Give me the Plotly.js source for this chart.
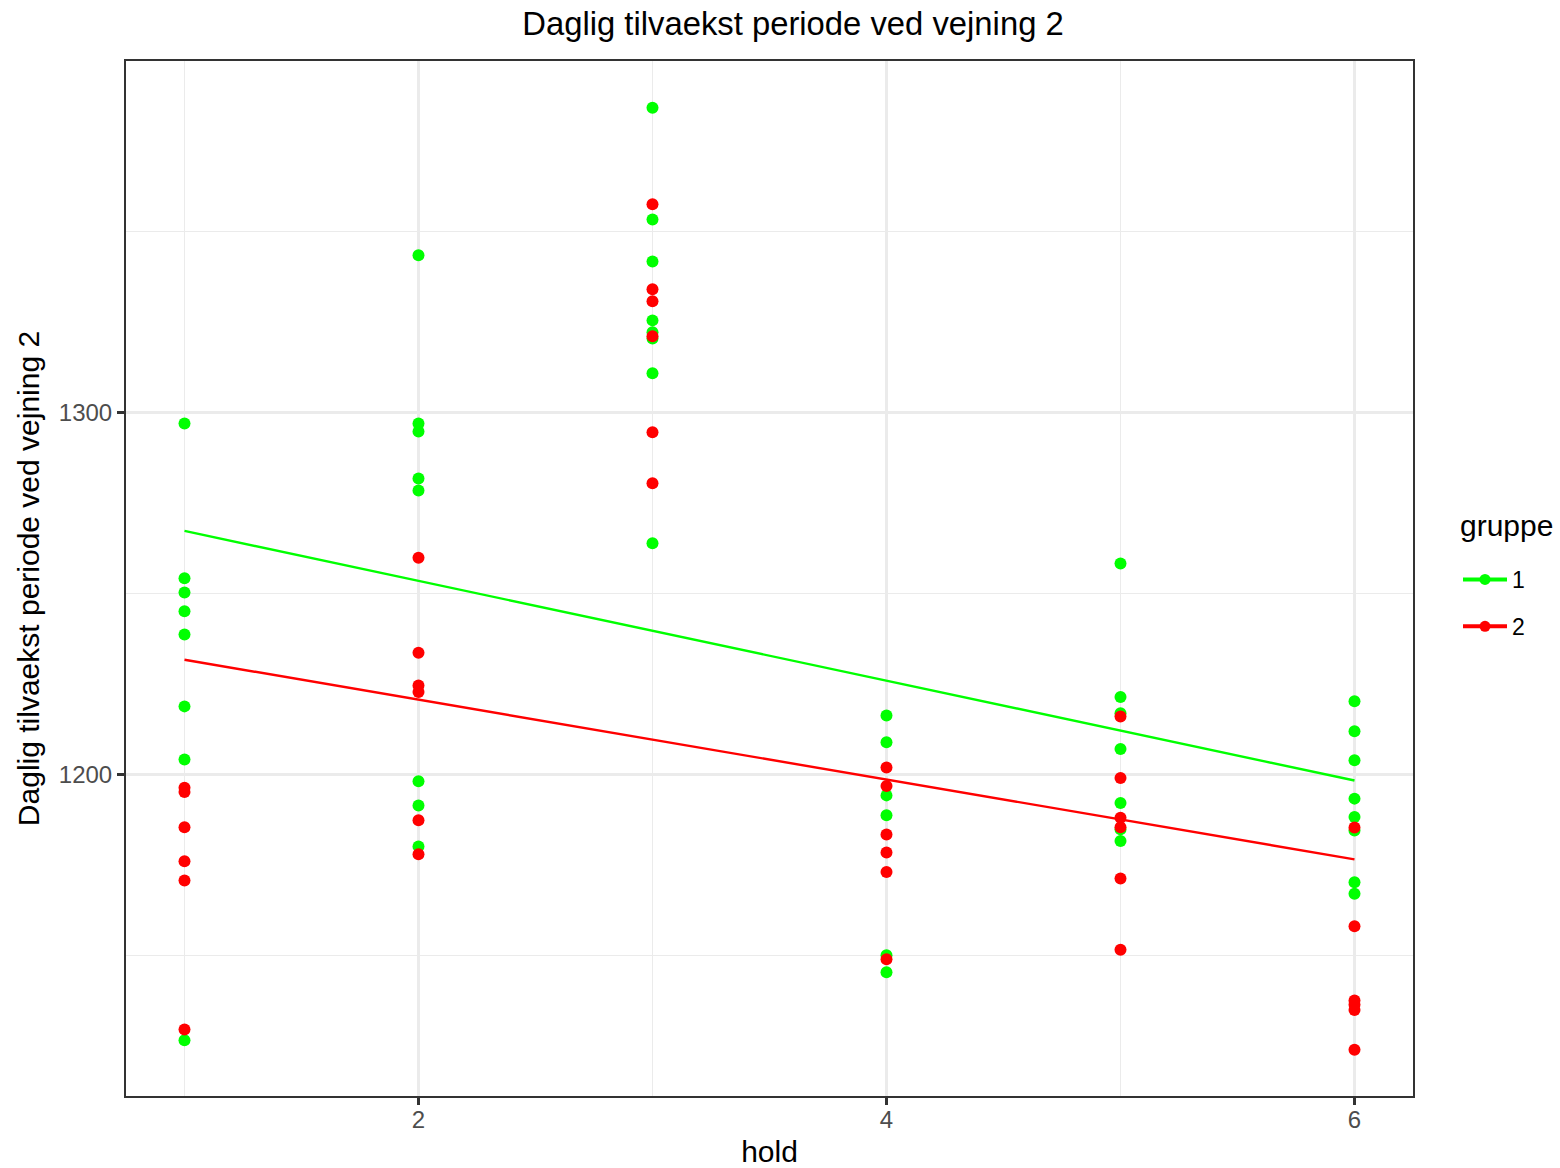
<!DOCTYPE html>
<html>
<head>
<meta charset="utf-8">
<script src="https://cdn.plot.ly/plotly-3.0.1.min.js"></script>
<style>html,body{margin:0;padding:0;background:#fff;}#chart{width:1560px;height:1168px;}</style>
</head>
<body>
<div id="chart"></div>
<script>
// hold (x) values and Daglig tilvaekst (y) values, group 1 (green)
const g1Hold = [1,1,1,1,1,1,1,1, 2,2,2,2,2,2,2,2, 3,3,3,3,3,3,3,3, 4,4,4,4,4,4, 5,5,5,5,5,5,5, 6,6,6,6,6,6,6,6];
const g1Val  = [1297.0,1254.2,1250.3,1245.1,1238.7,1218.8,1204.1,1126.5,
                1343.5,1297.0,1294.8,1281.8,1278.5,1198.1,1191.4,1180.1,
                1384.3,1353.4,1341.8,1325.5,1322.2,1320.5,1310.9,1263.9,
                1216.3,1208.9,1194.2,1188.7,1150.0,1145.3,
                1258.3,1221.4,1216.9,1207.0,1192.1,1184.8,1181.6,
                1220.2,1211.9,1203.9,1193.3,1188.2,1184.5,1170.2,1167.0];
// group 2 (red)
const g2Hold = [1,1,1,1,1,1, 2,2,2,2,2,2, 3,3,3,3,3,3, 4,4,4,4,4,4, 5,5,5,5,5,5, 6,6,6,6,6,6];
const g2Val  = [1196.3,1195.1,1185.4,1176.0,1170.7,1129.5,
                1259.9,1233.6,1224.6,1222.8,1187.3,1177.9,
                1357.6,1334.1,1330.8,1321.1,1294.6,1280.5,
                1201.9,1196.8,1183.4,1178.4,1173.0,1148.9,
                1216.0,1199.0,1188.0,1185.4,1171.2,1151.5,
                1185.3,1158.0,1137.5,1136.3,1134.9,1123.9];
// fitted lines
const lineHold = [1, 6];
const g1Line = [1267.3, 1198.3];
const g2Line = [1231.7, 1176.5];
const groupNames = ['1', '2'];
const groupColors = ['#00FF00', '#FF0000'];
const legendTitle = 'gruppe';
const xTicks = [2, 4, 6];
const yTicks = [1200, 1300];

const FONT = '"Liberation Sans", Arial, sans-serif';

const traces = [
  {x: g1Hold, y: g1Val, type: 'scatter', mode: 'markers', marker: {color: groupColors[0], size: 12}, showlegend: false, hoverinfo: 'skip'},
  {x: g2Hold, y: g2Val, type: 'scatter', mode: 'markers', marker: {color: groupColors[1], size: 12}, showlegend: false, hoverinfo: 'skip'},
  {x: lineHold, y: g1Line, type: 'scatter', mode: 'lines', line: {color: groupColors[0], width: 2.4}, showlegend: false},
  {x: lineHold, y: g2Line, type: 'scatter', mode: 'lines', line: {color: groupColors[1], width: 2.4}, showlegend: false},
  {x: [null], y: [null], type: 'scatter', mode: 'lines+markers', name: groupNames[0], legendgroup: 'a',
   line: {color: groupColors[0], width: 4}, marker: {color: groupColors[0], size: 11}},
  {x: [null], y: [null], type: 'scatter', mode: 'lines+markers', name: groupNames[1], legendgroup: 'b',
   line: {color: groupColors[1], width: 4}, marker: {color: groupColors[1], size: 11}}
];

const layout = {
  width: 1560, height: 1168,
  paper_bgcolor: '#fff', plot_bgcolor: '#fff',
  font: {family: FONT, color: '#000'},
  margin: {l: 126, r: 147, t: 61, b: 72, pad: 0},
  title: {text: 'Daglig tilvaekst periode ved vejning 2', font: {size: 32.8, color: '#000', family: FONT},
          xref: 'container', yref: 'container', x: 793/1560, y: 1 - 24/1168, xanchor: 'center', yanchor: 'middle'},
  xaxis: {
    range: [0.75, 6.25], tickvals: xTicks, ticktext: xTicks.map(String),
    showgrid: true, gridcolor: '#EBEBEB', gridwidth: 2.5,
    minor: {tickvals: [1, 3, 5], showgrid: true, gridcolor: '#EBEBEB', gridwidth: 1.1, ticklen: 0},
    zeroline: false, showline: true, mirror: true, linecolor: '#333333', linewidth: 2,
    ticks: 'outside', ticklen: 7, tickwidth: 2.5, tickcolor: '#333333',
    ticklabelstandoff: -6,
    tickfont: {size: 24, color: '#4D4D4D', family: FONT},
    title: {text: 'hold', font: {size: 30, color: '#000', family: FONT}, standoff: 14}
  },
  yaxis: {
    range: [1111.1, 1397.2], tickvals: yTicks, ticktext: yTicks.map(String),
    showgrid: true, gridcolor: '#EBEBEB', gridwidth: 2.5,
    minor: {tickvals: [1150, 1250, 1350], showgrid: true, gridcolor: '#EBEBEB', gridwidth: 1.1, ticklen: 0},
    zeroline: false, showline: true, mirror: true, linecolor: '#333333', linewidth: 2,
    ticks: 'outside', ticklen: 7, tickwidth: 2.5, tickcolor: '#333333',
    tickfont: {size: 24, color: '#4D4D4D', family: FONT},
    title: {text: 'Daglig tilvaekst periode ved vejning 2', font: {size: 30, color: '#000', family: FONT}, standoff: 10}
  },
  showlegend: true,
  legend: {
    xref: 'container', yref: 'container', x: 1458/1560, y: 1 - 558/1168, xanchor: 'left', yanchor: 'top',
    font: {size: 23, color: '#000', family: FONT},
    itemwidth: 44,
    tracegroupgap: 14, bgcolor: 'rgba(0,0,0,0)'
  },
  annotations: [
    {text: legendTitle, xref: 'paper', yref: 'paper', x: (1458 - 126) / (1413 - 126), y: 1 - (525 - 61) / (1096 - 61),
     xanchor: 'left', yanchor: 'middle', showarrow: false, font: {size: 30, color: '#000', family: FONT}}
  ]
};

Plotly.newPlot('chart', traces, layout, {staticPlot: true, displayModeBar: false});
</script>
</body>
</html>
